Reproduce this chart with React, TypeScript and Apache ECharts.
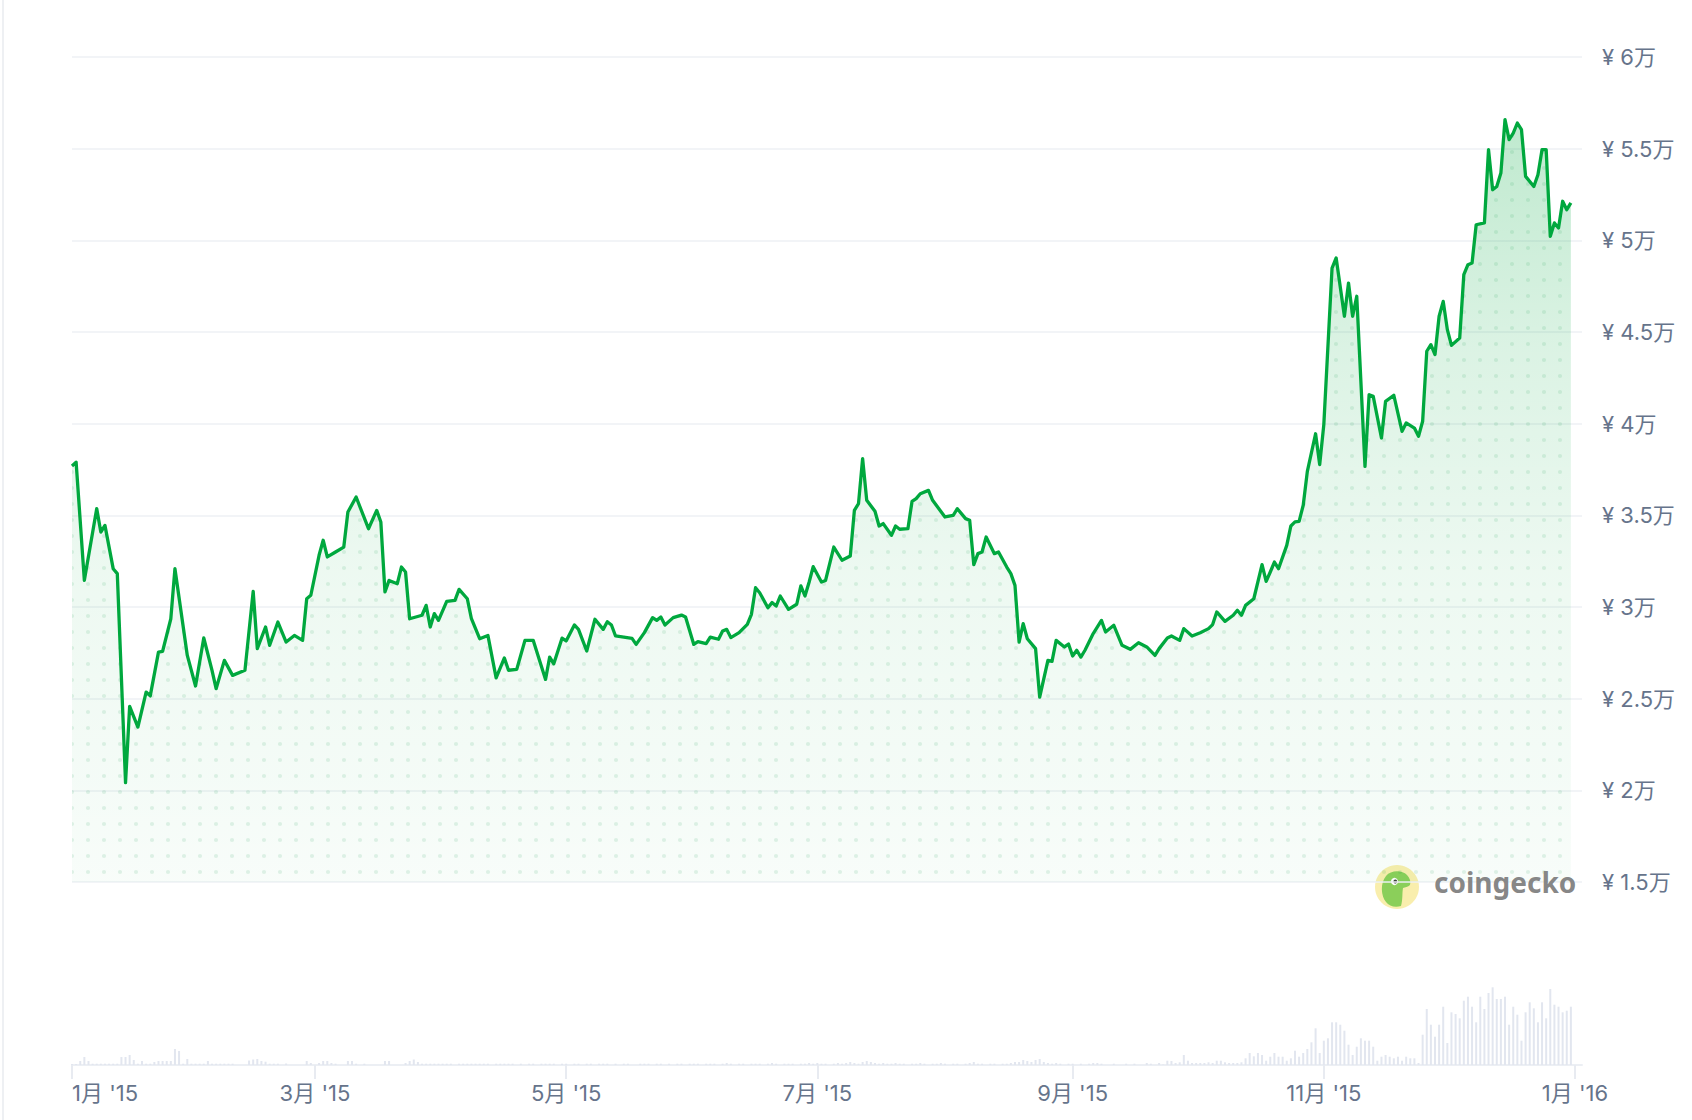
import React, { useEffect, useRef } from "react";
import * as echarts from "echarts";

// ---- data ----
const START_UTC = Date.UTC(2015, 0, 1);
const DAY_MS = 86400000;

// [day offset from 2015-01-01, price in CNY]
const pricePoints: [number, number][] = [
  [0, 37690], [1, 37900], [3, 31455], [6, 35364], [7, 34090], [8, 34450], [10, 32090], [11, 31820],
  [13, 20420], [14, 24580], [16, 23450], [18, 25360], [19, 25150], [21, 27540], [22, 27580], [24, 29360],
  [25, 32090], [28, 27360], [30, 25690], [32, 28310], [34, 26545], [35, 25545], [37, 27090], [39, 26270],
  [42, 26545], [44, 30855], [45, 27730], [47, 28910], [48, 27910], [50, 29180], [52, 28090], [54, 28450],
  [56, 28180], [57, 30450], [58, 30640], [60, 32820], [61, 33640], [62, 32730], [64, 33000], [66, 33270],
  [67, 35180], [69, 36000], [72, 34270], [74, 35270], [75, 34640], [76, 30820], [77, 31450], [79, 31270],
  [80, 32180], [81, 31910], [82, 29360], [85, 29550], [86, 30090], [87, 28910], [88, 29640], [89, 29270],
  [91, 30310], [93, 30360], [94, 30960], [96, 30450], [97, 29360], [99, 28270], [101, 28450], [103, 26130],
  [105, 27220], [106, 26550], [108, 26600], [110, 28180], [112, 28180], [115, 26050], [116, 27270], [117, 26900],
  [119, 28300], [120, 28150], [122, 29020], [123, 28780], [125, 27600], [127, 29330], [129, 28780], [130, 29200],
  [131, 29020], [132, 28420], [134, 28360], [136, 28290], [137, 27960], [139, 28600], [141, 29420], [142, 29270],
  [143, 29450], [144, 29020], [146, 29420], [148, 29560], [149, 29450], [151, 27960], [152, 28110], [154, 28000],
  [155, 28360], [157, 28240], [158, 28690], [159, 28780], [160, 28330], [162, 28600], [164, 29050], [165, 29600],
  [166, 31050], [167, 30780], [169, 29960], [170, 30240], [171, 30050], [172, 30600], [174, 29870], [176, 30150],
  [177, 31150], [178, 30600], [179, 31350], [180, 32200], [182, 31360], [183, 31450], [185, 33270], [187, 32550],
  [189, 32780], [190, 35270], [191, 35640], [192, 38090], [193, 35820], [195, 35220], [196, 34420], [197, 34550],
  [199, 33910], [200, 34420], [201, 34240], [203, 34270], [204, 35760], [205, 35910], [206, 36180], [208, 36360],
  [209, 35820], [212, 34910], [214, 35000], [215, 35360], [217, 34820], [218, 34730], [219, 32310], [220, 32910],
  [221, 33000], [222, 33820], [224, 32910], [225, 33000], [227, 32180], [228, 31820], [229, 31180], [230, 28090],
  [231, 29090], [232, 28270], [234, 27730], [235, 25090], [237, 27090], [238, 27040], [239, 28180], [241, 27820],
  [242, 27980], [243, 27330], [244, 27640], [245, 27270], [246, 27640], [248, 28550], [250, 29270], [251, 28640],
  [253, 29000], [255, 27910], [257, 27690], [259, 28050], [261, 27820], [263, 27360], [264, 27730], [266, 28310],
  [267, 28420], [269, 28180], [270, 28820], [272, 28420], [274, 28600], [276, 28820], [277, 29040], [278, 29730],
  [280, 29220], [282, 29550], [283, 29820], [284, 29550], [285, 30090], [287, 30450], [289, 32310], [290, 31400],
  [291, 31910], [292, 32450], [293, 32090], [295, 33360], [296, 34420], [297, 34640], [298, 34670], [299, 35550],
  [300, 37400], [302, 39450], [303, 37770], [304, 39950], [306, 48490], [307, 49040], [309, 45860], [310, 47670],
  [311, 45860], [312, 46950], [314, 37670], [315, 41580], [316, 41490], [318, 39220], [319, 41220], [321, 41550],
  [323, 39580], [324, 40040], [326, 39760], [327, 39310], [328, 40130], [329, 43950], [330, 44310], [331, 43770],
  [332, 45860], [333, 46670], [334, 45130], [335, 44270], [337, 44670], [338, 48130], [339, 48670], [340, 48760],
  [341, 50850], [343, 50950], [344, 54950], [345, 52760], [346, 52940], [347, 53670], [348, 56580], [349, 55490],
  [350, 55850], [351, 56400], [352, 56040], [353, 53490], [355, 52940], [356, 53580], [357, 54950], [358, 54950],
  [359, 50220], [360, 50950], [361, 50670], [362, 52130], [363, 51670], [364, 52040],
];

// daily trading volume (relative units), one array per month of 2015
const volJan = [1, 1, 4, 8, 4, 1.3, 1.3, 1.3, 1.3, 1.3, 1.3, 1.3, 8, 8, 10, 5, 1.3, 4, 1.3, 1.3, 3, 4, 4, 4, 4, 16, 14, 1.3, 6, 1.3, 1.3];
const volFeb = [1.3, 1.3, 4, 1.3, 1.3, 1.3, 1.3, 1.3, 1.3, 0, 0, 0, 4.5, 5.5, 6, 4, 3.3, 1.3, 1.3, 1.3, 0, 1.5, 0, 0, 0, 0, 4, 2];
const volMar = [0, 2, 4, 4, 2, 1.3, 0, 0, 4, 4, 1.3, 0, 1.3, 0, 0, 0, 0, 4, 4, 0, 0, 0, 2, 4, 5.5, 3, 1.3, 1.3, 1.3, 1.3, 1.3];
const volApr = [1.3, 1.3, 1.3, 0, 1.3, 1.3, 1.3, 1.3, 1.3, 1.3, 1.3, 1.3, 0, 1.3, 1.3, 1.3, 1.3, 1.3, 0, 1.3, 0, 1.3, 1.3, 0, 1.3, 1.3, 1.3, 1.3, 0, 1.3];
const volMay = [1.3, 0, 1.3, 1.3, 0, 1.3, 1.3, 0, 1.3, 1.3, 1.3, 0, 1.3, 0, 1.3, 1.3, 0, 0, 1.3, 1.3, 1.3, 0, 1.3, 1.3, 0, 1.3, 0, 1.3, 1.3, 0, 1.3];
const volJun = [1.3, 1.3, 0, 1.3, 1.3, 1.3, 0, 1.3, 2, 1.3, 0, 1.3, 1.3, 0, 1.3, 1.3, 1.3, 0, 1.3, 2, 1.3, 0, 1.3, 1.3, 1.3, 0, 1.3, 1.3, 2, 1.3];
const volJul = [2, 1.3, 1.3, 0, 1.3, 2, 1.3, 2, 3, 2, 1.3, 3, 4, 3, 2, 1.3, 2, 1.3, 1.3, 2, 1.3, 1.3, 0, 1.3, 1.3, 2, 1.3, 0, 1.3, 1.3, 2];
const volAug = [1.3, 0, 1.3, 1.3, 0, 1.3, 2, 3, 1.3, 1.3, 0, 1.3, 1.3, 0, 1.3, 1.3, 2, 3, 3, 5, 4, 3, 5, 6, 3, 2, 1.3, 2, 1.3, 0, 1.3];
const volSep = [1.3, 0, 1.3, 0, 1.3, 2, 2, 1.3, 0, 0, 1.3, 0, 0, 1.3, 0, 1.3, 0, 0, 2, 1.3, 0, 2, 0.5, 4.3, 4, 2, 2.7, 10, 4.3, 2];
const volOct = [2, 2, 2, 2.7, 2, 4.3, 4.3, 2.7, 2, 2, 2, 2.7, 6.7, 12, 8.7, 12, 10, 4.3, 8.3, 12, 8.3, 8.3, 4.3, 6.7, 14.3, 8.3, 12, 16, 22.7, 36.7, 12];
const volNov = [24.3, 26.7, 42.7, 42.7, 40.3, 34.3, 20.3, 10, 18.3, 26.7, 24.3, 24.3, 18.3, 4.3, 8.3, 10, 8.3, 6.7, 8.3, 4.3, 8.3, 6.7, 6.7, 2, 30.3, 56, 40.3, 28.3, 40.3, 58.3];
const volDec = [22, 52.7, 51, 46.7, 64.3, 68.3, 58.3, 42.7, 68.3, 56, 72, 77.7, 66, 66, 68.3, 40.3, 58.3, 50.3, 24.3, 52.7, 62.7, 56.7, 42.7, 62.7, 46.7, 76, 60.3, 58.3, 52.7, 54.3, 58.3];

// y-axis ticks (CNY) and x-axis label months
const yTicks = [15000, 20000, 25000, 30000, 35000, 40000, 45000, 50000, 55000, 60000];
const xLabelMonths: [number, number][] = [
  [2015, 0], [2015, 2], [2015, 4], [2015, 6], [2015, 8], [2015, 10], [2016, 0],
];

const LINE_GREEN = "#00a83e";
const LABEL_COLOR = "#66748b";
const FONT = "Inter, 'Noto Sans', 'Noto Sans CJK SC', sans-serif";

const GECKO_PATH =
  "M9 35 C4 29 3 16 9 9 C14 3 25 3 30 8 C33 11 34 15 33 18 C31 20 28 20 26 21 C25 26 26 32 24 39 C18 41 12 39 9 35 Z";

export default function App() {
  const ref = useRef<HTMLDivElement>(null);

  useEffect(() => {
    if (!ref.current) return;
    try {
      echarts.graphic.registerShape("geckoHead", echarts.graphic.extendPath(GECKO_PATH as any, {}) as any);
    } catch (e) {}

    const chart = echarts.init(ref.current, undefined, { renderer: "svg" });

    // dot pattern for the area
    const cv = document.createElement("canvas");
    cv.width = 16;
    cv.height = 16;
    const ctx = cv.getContext("2d");
    if (ctx) {
      ctx.fillStyle = "rgba(0,150,60,0.11)";
      ctx.beginPath();
      ctx.arc(8, 8, 2.1, 0, Math.PI * 2);
      ctx.fill();
    }

    const priceData = pricePoints.map(([d, p]) => [START_UTC + d * DAY_MS, p]);
    const volumeDaily = [
      ...volJan, ...volFeb, ...volMar, ...volApr, ...volMay, ...volJun,
      ...volJul, ...volAug, ...volSep, ...volOct, ...volNov, ...volDec,
    ];
    const volumeData = volumeDaily.map((v, i) => [START_UTC + i * DAY_MS, v]);
    const monthTicks = xLabelMonths.map(([y, m]) => Date.UTC(y, m, 1));
    const xMin = START_UTC;
    const xMax = START_UTC + 366.7 * DAY_MS;

    const option: any = {
      animation: false,
      backgroundColor: "#ffffff",
      grid: [
        { left: 72, top: 57, width: 1510, height: 825 },
        { left: 72, top: 985, width: 1510, height: 80 },
      ],
      xAxis: [
        {
          type: "value",
          gridIndex: 0,
          min: xMin,
          max: xMax,
          axisLine: { show: false },
          axisTick: { show: false },
          axisLabel: { show: false },
          splitLine: { show: false },
        },
        {
          type: "value",
          gridIndex: 1,
          min: xMin,
          max: xMax,
          axisLine: { show: true, lineStyle: { color: "#eceff4", width: 2 } },
          axisTick: {
            show: true,
            customValues: monthTicks,
            length: 14,
            lineStyle: { color: "#e8ebf1", width: 2 },
          },
          axisLabel: {
            show: true,
            customValues: monthTicks,
            color: LABEL_COLOR,
            fontSize: 22,
            fontFamily: FONT,
            margin: 17,
            alignMinLabel: "left",
            showMinLabel: true,
            showMaxLabel: true,
            formatter: (val: number) => {
              const d = new Date(val);
              return `${d.getUTCMonth() + 1}月 '${String(d.getUTCFullYear()).slice(2)}`;
            },
          },
          splitLine: { show: false },
        },
      ],
      yAxis: [
        {
          type: "value",
          gridIndex: 0,
          position: "right",
          min: yTicks[0],
          max: yTicks[yTicks.length - 1],
          interval: yTicks[1] - yTicks[0],
          axisLine: { show: false },
          axisTick: { show: false },
          axisLabel: {
            color: LABEL_COLOR,
            fontSize: 22,
            fontFamily: FONT,
            margin: 20,
            align: "left",
            formatter: (v: number) => `¥ ${v / 10000}万`,
          },
          splitLine: { show: true, lineStyle: { color: "#eef0f4", width: 1.5 } },
        },
        {
          type: "value",
          gridIndex: 1,
          min: 0,
          max: 80,
          show: false,
          splitLine: { show: false },
        },
      ],
      series: [
        {
          type: "bar",
          xAxisIndex: 1,
          yAxisIndex: 1,
          data: volumeData,
          barWidth: 2,
          itemStyle: { color: "#e2e6ef" },
          silent: true,
        },
        {
          type: "line",
          xAxisIndex: 0,
          yAxisIndex: 0,
          data: priceData,
          showSymbol: false,
          lineStyle: { width: 0, opacity: 0 },
          areaStyle: { color: { image: cv, repeat: "repeat" } as any, opacity: 1 },
          silent: true,
          z: 3,
        },
        {
          type: "line",
          xAxisIndex: 0,
          yAxisIndex: 0,
          data: priceData,
          showSymbol: false,
          lineStyle: { color: LINE_GREEN, width: 3.3, join: "round" },
          areaStyle: {
            color: new echarts.graphic.LinearGradient(0, 0, 0, 1, [
              { offset: 0, color: "rgba(0,168,62,0.36)" },
              { offset: 0.3, color: "rgba(0,168,62,0.2)" },
              { offset: 0.6, color: "rgba(0,168,62,0.1)" },
              { offset: 1, color: "rgba(0,168,62,0.04)" },
            ]),
          },
          silent: true,
          z: 2,
        },
      ],
      graphic: [
        {
          type: "line",
          shape: { x1: 3, y1: 0, x2: 3, y2: 1120 },
          style: { stroke: "#eef0f3", lineWidth: 2 },
          silent: true,
        },
        {
          type: "group",
          left: 1375,
          top: 865,
          z: 100,
          children: [
            {
              type: "circle",
              shape: { cx: 22, cy: 22, r: 22 },
              style: { fill: "#f8eca4", opacity: 0.9 },
            },
            {
              type: "geckoHead",
              x: 2,
              y: 2,
              scaleX: 1.0,
              scaleY: 1.0,
              style: { fill: "#8bcf5a" },
            },
            {
              type: "circle",
              shape: { cx: 19.5, cy: 16.5, r: 3.6 },
              style: { fill: "#ffffff" },
            },
            {
              type: "circle",
              shape: { cx: 20.3, cy: 16.5, r: 1.9 },
              style: { fill: "#3a3a3a" },
            },
          ],
        },
        {
          type: "text",
          left: 1434,
          top: 868,
          z: 100,
          style: {
            text: "coingecko",
            font: "bold 28px 'Noto Sans', Roboto, sans-serif",
            fill: "#808080",
            opacity: 0.95,
          },
        },
      ],
    };

    chart.setOption(option);
    return () => {
      chart.dispose();
    };
  }, []);

  return (
    <div
      ref={ref}
      style={{ position: "fixed", left: 0, top: 0, width: 1692, height: 1120, background: "#fff" }}
    />
  );
}
